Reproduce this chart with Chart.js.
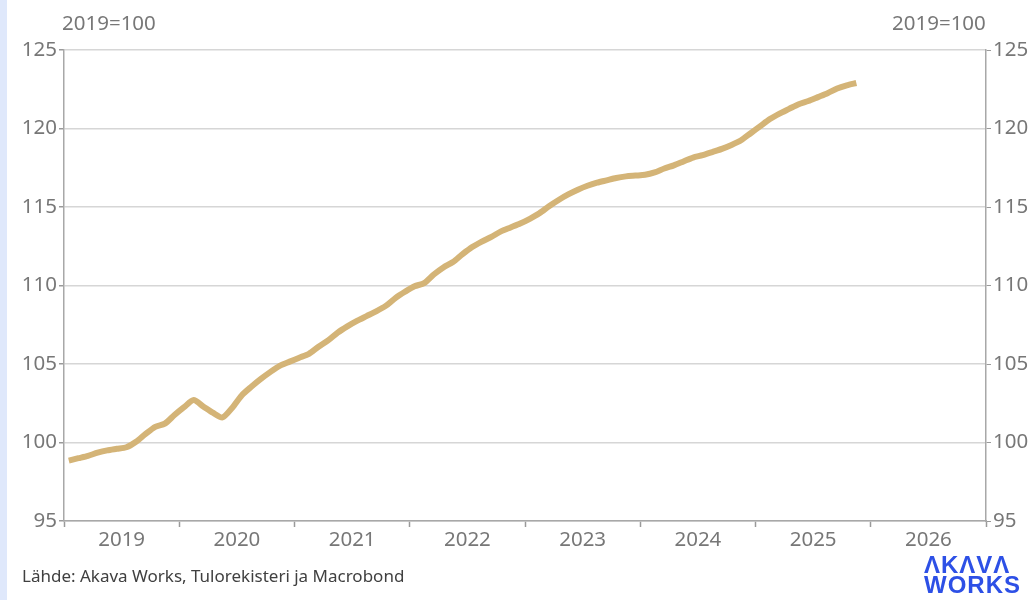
<!DOCTYPE html>
<html>
<head>
<meta charset="utf-8">
<script src="https://cdn.jsdelivr.net/npm/chart.js@4"></script>
<style>
  body { margin: 0; background: #fff; font-family: "Noto Sans", sans-serif; }
  #wrap { position: relative; width: 1029px; height: 600px; overflow: hidden; }
  #strip { position: absolute; left: 0; top: 0; width: 7px; height: 600px; background: #dfe8fb; }
  canvas { position: absolute; left: 0; top: 0; }
  .unit { position: absolute; top: 8px; font-size: 20.5px; color: #777; }
  #source { position: absolute; left: 22px; top: 564px; font-size: 17px; color: #404040; }
  #logo { position: absolute; left: 924px; top: 555px; font-family: "Liberation Sans", sans-serif; font-weight: bold;
          color: #2d50e6; font-size: 24px; line-height: 20px; letter-spacing: 1px; }
</style>
</head>
<body>
<div id="wrap">
  <div id="strip"></div>
  <canvas id="chart" width="1029" height="600"></canvas>
  <div class="unit" style="left:62px">2019=100</div>
  <div class="unit" style="left:892px">2019=100</div>
  <div id="source">Lähde: Akava Works, Tulorekisteri ja Macrobond</div>
  <div id="logo">ΛKΛVΛ<br>WORKS</div>
</div>
<script>
// monthly index, Jan 2019 .. Nov 2025 (2019=100)
const years = ["2019", "2020", "2021", "2022", "2023", "2024", "2025", "2026"];
const values = [
  98.85, 99.0, 99.15, 99.35, 99.5, 99.6, 99.7, 100.05, 100.55, 101.0, 101.2, 101.75,
  102.25, 102.7, 102.3, 101.9, 101.6, 102.2, 103.0, 103.55, 104.05, 104.5, 104.9, 105.15,
  105.4, 105.65, 106.1, 106.5, 107.0, 107.4, 107.75, 108.05, 108.35, 108.7, 109.2, 109.6,
  109.95, 110.15, 110.7, 111.15, 111.5, 112.0, 112.45, 112.8, 113.1, 113.45, 113.7, 113.95,
  114.25, 114.6, 115.05, 115.45, 115.8, 116.1, 116.35, 116.55, 116.7, 116.85, 116.95, 117.0,
  117.05, 117.2, 117.45, 117.65, 117.9, 118.15, 118.3, 118.5, 118.7, 118.95, 119.25, 119.7,
  120.15, 120.6, 120.95, 121.25, 121.55, 121.75, 122.0, 122.25, 122.55, 122.75, 122.9
];
const yTicks = [95, 100, 105, 110, 115, 120, 125];

const points = values.map((v, i) => ({ x: i + 0.5, y: v }));

const tickFont = { family: "Noto Sans", size: 20.5 };
const tickColor = "#777";

const ctx = document.getElementById("chart").getContext("2d");
const chart = new Chart(ctx, {
  type: "line",
  data: {
    datasets: [
      {
        data: points,
        borderColor: "#d4b477",
        borderWidth: 6,
        pointRadius: 0,
        tension: 0.25,
        fill: false,
        yAxisID: "y",
      },
    ],
  },
  options: {
    responsive: false,
    animation: false,
    layout: { padding: { top: 50, left: 0, right: 0, bottom: 0 } },
    plugins: { legend: { display: false }, tooltip: { enabled: false } },
    scales: {
      x: {
        type: "linear",
        min: 0,
        max: years.length * 12,
        afterBuildTicks: (scale) => {
          const t = [];
          for (let m = 0; m <= years.length * 12; m += 6) t.push({ value: m });
          scale.ticks = t;
        },
        afterFit: (scale) => { scale.height = 79; },
        ticks: {
          autoSkip: false,
          maxRotation: 0,
          padding: 1,
          color: tickColor,
          font: tickFont,
          callback: (v) => ((v - 6) % 12 === 0 ? years[(v - 6) / 12] : ""),
        },
        grid: {
          drawOnChartArea: false,
          tickLength: 6,
          tickWidth: 1.5,
          tickColor: (c) => (c.tick && c.tick.value % 12 === 0 ? "#9a9a9a" : "rgba(0,0,0,0)"),
        },
        border: { color: "#a8a8a8", width: 1.5 },
      },
      y: {
        position: "left",
        min: 95,
        max: 125,
        afterBuildTicks: (scale) => { scale.ticks = yTicks.map((v) => ({ value: v })); },
        afterFit: (scale) => { scale.width = 64; },
        ticks: { color: tickColor, font: tickFont, padding: 2 },
        grid: { color: "#d6d6d6", lineWidth: 1.5, tickColor: "#9a9a9a", tickLength: 5 },
        border: { color: "#a8a8a8", width: 1.5 },
      },
      y2: {
        position: "right",
        min: 95,
        max: 125,
        afterBuildTicks: (scale) => { scale.ticks = yTicks.map((v) => ({ value: v })); },
        afterFit: (scale) => { scale.width = 43; },
        ticks: { color: tickColor, font: tickFont, padding: 2 },
        grid: { drawOnChartArea: false, tickColor: "#9a9a9a", tickLength: 5 },
        border: { color: "#a8a8a8", width: 1.5 },
      },
    },
  },
});
</script>
</body>
</html>
